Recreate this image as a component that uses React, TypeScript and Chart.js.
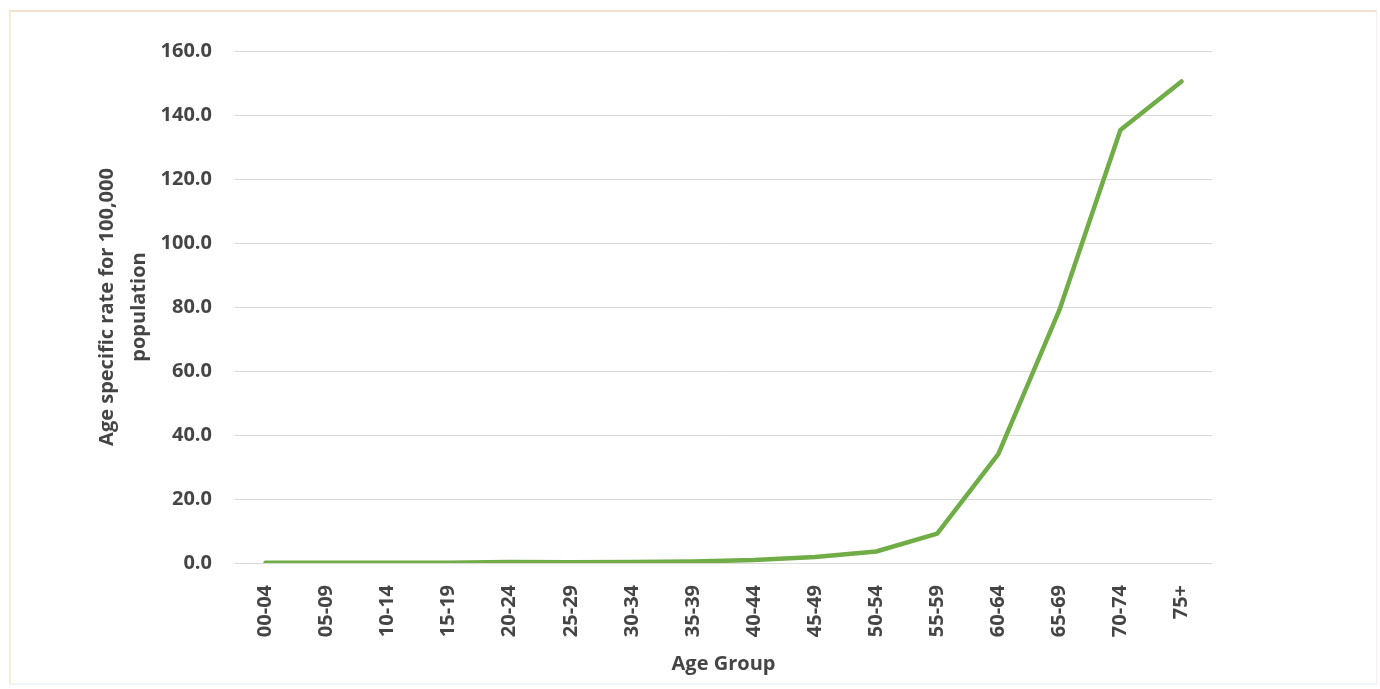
import React, { useEffect, useRef } from "react";
import { Chart, registerables } from "chart.js";

Chart.register(...registerables);

const ageGroups = [
  "00-04", "05-09", "10-14", "15-19", "20-24", "25-29", "30-34", "35-39",
  "40-44", "45-49", "50-54", "55-59", "60-64", "65-69", "70-74", "75+",
];
const rates = [0.1, 0.1, 0.1, 0.1, 0.3, 0.2, 0.3, 0.5, 0.9, 1.9, 3.6, 9.2, 34.0, 79.0, 135.3, 150.5];
const yTitleLines = ["Age specific rate for 100,000", "population"];
const xTitle = "Age Group";

const FONT = "'Open Sans', 'DejaVu Sans', sans-serif";
const TEXT = "#454545";

export default function App() {
  const ref = useRef<HTMLCanvasElement | null>(null);

  useEffect(() => {
    if (!ref.current) return;
    const chart = new Chart(ref.current, {
      type: "line",
      data: {
        labels: ageGroups,
        datasets: [
          {
            data: rates,
            borderColor: "#70ad47",
            backgroundColor: "#70ad47",
            borderWidth: 4.5,
            pointRadius: 0,
            tension: 0,
            borderCapStyle: "round",
            borderJoinStyle: "round",
          },
        ],
      },
      options: {
        responsive: false,
        animation: false,
        maintainAspectRatio: false,
        layout: { padding: { left: 91, top: 51, right: 168, bottom: 12 } },
        plugins: { legend: { display: false }, tooltip: { enabled: false } },
        scales: {
          x: {
            offset: true,
            grid: { display: false, drawTicks: false },
            border: { display: false },
            ticks: {
              autoSkip: false,
              maxRotation: 90,
              minRotation: 90,
              padding: 22,
              color: TEXT,
              font: { family: FONT, size: 20, weight: "bold" },
            },
            title: {
              display: true,
              text: xTitle,
              color: TEXT,
              padding: { top: 0, bottom: 0 },
              font: { family: FONT, size: 20, weight: "bold", lineHeight: 1.3 },
            },
            afterFit: (s: any) => {
              s.height = 689 - 12 - 563;
            },
          },
          y: {
            min: 0,
            max: 160,
            grid: { color: "#d9d9d9", lineWidth: 1, drawTicks: false },
            border: { display: false },
            ticks: {
              stepSize: 20,
              padding: 23,
              color: TEXT,
              font: { family: FONT, size: 20, weight: "bold" },
              callback: (v: any) => Number(v).toFixed(1),
            },
            title: {
              display: true,
              text: yTitleLines,
              color: TEXT,
              padding: { top: 0, bottom: 0 },
              font: { family: FONT, size: 20, weight: "bold", lineHeight: "32px" },
            },
            afterFit: (s: any) => {
              s.width = 235 - 91;
            },
          },
        },
      },
    });
    return () => chart.destroy();
  }, []);

  return (
    <div style={{ position: "fixed", left: 0, top: 0, width: 1380, height: 689, background: "#ffffff" }}>
      <div
        style={{
          position: "absolute",
          left: 9,
          top: 10,
          width: 1368,
          height: 675,
          borderTop: "2px solid #f2e2cf",
          borderLeft: "2px solid #f6edd3",
          borderRight: "1px solid #fbecef",
          borderBottom: "2px solid #eef4f8",
          boxSizing: "border-box",
        }}
      />
      <canvas ref={ref} width={1380} height={689} style={{ position: "absolute", left: 0, top: 0 }} />
    </div>
  );
}
